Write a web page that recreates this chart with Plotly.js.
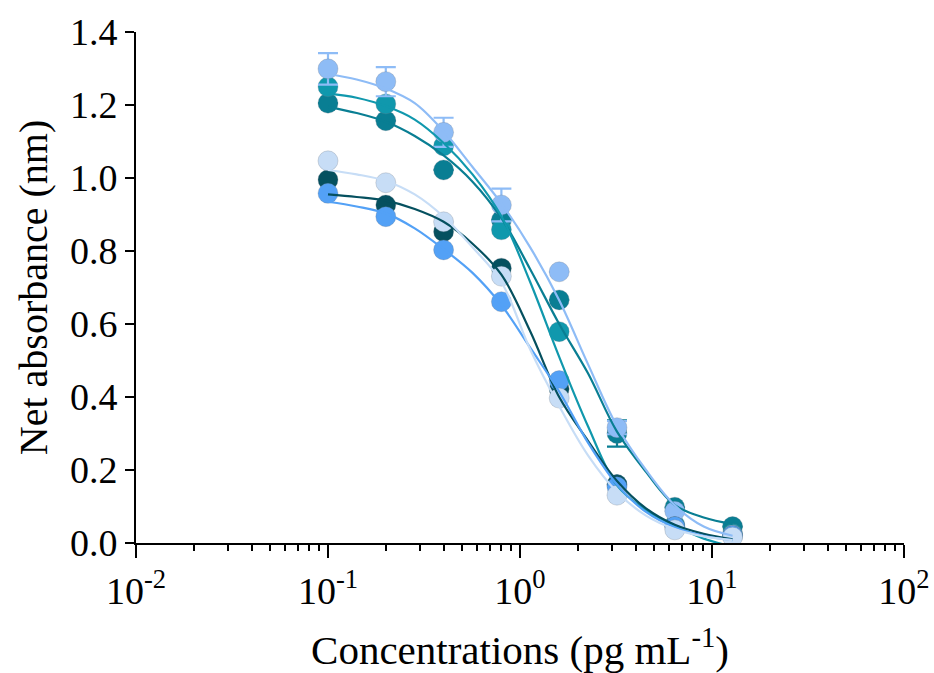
<!DOCTYPE html>
<html>
<head>
<meta charset="utf-8">
<script src="https://cdn.plot.ly/plotly-3.0.1.min.js"></script>
<style>html,body{margin:0;padding:0;background:#fff;}#chart{width:934px;height:673px;}</style>
</head>
<body>
<div id="chart"></div>
<script>
// Measured concentrations (pg/mL)
const concentrations = [0.1, 0.2, 0.4, 0.8, 1.6, 3.2, 6.4, 12.8];

const lightBluePts = [1.299, 1.264, 1.125, 0.926, 0.743, 0.316, 0.087, 0.022];
const lightBlueErr = [0.043, 0.040, 0.040, 0.045, 0.0, 0.018, 0.0, 0.0];
const tealPts      = [1.250, 1.203, 1.088, 0.858, 0.579, 0.160, 0.050, 0.025];
const darkTealPts  = [1.205, 1.157, 1.022, 0.885, 0.666, 0.300, 0.098, 0.045];
const darkTealErr  = [0, 0, 0, 0, 0, 0.036, 0, 0];
const paleBluePts  = [1.047, 0.987, 0.880, 0.731, 0.397, 0.131, 0.036, 0.016];
const navyPts      = [0.995, 0.926, 0.853, 0.753, 0.422, 0.160, 0.045, 0.020];
const bluePts      = [0.958, 0.894, 0.803, 0.661, 0.445, 0.154, 0.045, 0.020];

// Fitted curves at these concentrations
const curveX = [0.1, 0.141, 0.2, 0.283, 0.4, 0.566, 0.8, 1.13, 1.6, 2.26, 3.2, 4.53, 6.4, 9.05, 12.8];
const lightBlueFit = [1.285, 1.270, 1.245, 1.205, 1.128, 1.030, 0.930, 0.810, 0.665, 0.490, 0.320, 0.200, 0.103, 0.045, 0.020];
const tealFit      = [1.232, 1.220, 1.197, 1.160, 1.096, 1.010, 0.895, 0.715, 0.510, 0.320, 0.158, 0.090, 0.047, 0.012, -0.010];
const darkTealFit  = [1.195, 1.178, 1.154, 1.115, 1.062, 0.990, 0.890, 0.750, 0.600, 0.465, 0.305, 0.195, 0.104, 0.070, 0.052];
const paleBlueFit  = [1.022, 1.010, 0.992, 0.955, 0.894, 0.810, 0.715, 0.530, 0.375, 0.240, 0.140, 0.075, 0.038, 0.018, 0.008];
const navyFit      = [0.955, 0.948, 0.938, 0.915, 0.880, 0.820, 0.735, 0.580, 0.400, 0.280, 0.170, 0.095, 0.050, 0.025, 0.010];
const blueFit      = [0.935, 0.922, 0.903, 0.862, 0.805, 0.740, 0.652, 0.535, 0.415, 0.275, 0.160, 0.085, 0.043, 0.020, 0.008];

// Axis ticks
const xMajorVals = [0.01, 0.1, 1, 10, 100];
const xMajorText = ['10<sup>-2</sup>', '10<sup>-1</sup>', '10<sup>0</sup>', '10<sup>1</sup>', '10<sup>2</sup>'];
const xMinorVals = [];
[0.01, 0.1, 1, 10].forEach(d => { for (let k = 2; k <= 9; k++) xMinorVals.push(d * k); });
const yTickVals = [0, 0.2, 0.4, 0.6, 0.8, 1.0, 1.2, 1.4];

const colors = {
  lightBlue: '#8ebcf6', teal: '#1098ad', darkTeal: '#097e93',
  paleBlue: '#c7ddf6', navy: '#05505f', blue: '#53a1f6'
};

const series = [
  {pts: darkTealPts, fit: darkTealFit, c: colors.darkTeal, err: darkTealErr},
  {pts: tealPts, fit: tealFit, c: colors.teal},
  {pts: lightBluePts, fit: lightBlueFit, c: colors.lightBlue, err: lightBlueErr},
  {pts: navyPts, fit: navyFit, c: colors.navy},
  {pts: bluePts, fit: blueFit, c: colors.blue},
  {pts: paleBluePts, fit: paleBlueFit, c: colors.paleBlue}
];

const traces = [];
series.forEach(s => {
  const t = {
    x: concentrations, y: s.pts, type: 'scatter', mode: 'markers',
    marker: {size: 20, color: s.c, line: {width: 0.8, color: 'rgba(110,120,135,0.35)'}},
    showlegend: false, hoverinfo: 'x+y'
  };
  if (s.err) t.error_y = {type: 'data', array: s.err, visible: true, color: s.c, thickness: 2.2, width: 10};
  traces.push(t);
});
series.forEach(s => {
  traces.push({
    x: curveX, y: s.fit, type: 'scatter', mode: 'lines',
    line: {color: s.c, width: 2.2, shape: 'spline', smoothing: 1},
    showlegend: false, hoverinfo: 'skip'
  });
});

const fontFam = '"Liberation Serif", "DejaVu Serif", serif';
const layout = {
  width: 934, height: 673,
  margin: {l: 136, r: 30, t: 32, b: 130},
  paper_bgcolor: '#fff', plot_bgcolor: '#fff',
  font: {family: fontFam, color: '#000', size: 38},
  showlegend: false,
  xaxis: {
    type: 'log', range: [-2, 2],
    tickmode: 'array', tickvals: xMajorVals, ticktext: xMajorText,
    ticks: 'outside', ticklen: 13, tickwidth: 2, tickcolor: '#000',
    minor: {tickmode: 'array', tickvals: xMinorVals, ticks: 'outside', ticklen: 6, tickwidth: 2, tickcolor: '#000', showgrid: false},
    showline: true, linewidth: 2, linecolor: '#000',
    showgrid: false, zeroline: false, automargin: false,
    tickfont: {family: fontFam, size: 38, color: '#000'},
    title: {text: 'Concentrations (pg mL<sup>-1</sup>)', font: {family: fontFam, size: 41, color: '#000'}, standoff: 28}
  },
  yaxis: {
    range: [0, 1.4], tickmode: 'array', tickvals: yTickVals, tickformat: '.1f',
    ticks: 'outside', ticklen: 9, tickwidth: 2, tickcolor: '#000',
    showline: true, linewidth: 2, linecolor: '#000',
    showgrid: false, zeroline: false, automargin: false,
    tickfont: {family: fontFam, size: 38, color: '#000'},
    title: {text: 'Net absorbance (nm)', font: {family: fontFam, size: 40, color: '#000'}, standoff: 10}
  }
};

Plotly.newPlot('chart', traces, layout, {displayModeBar: false, staticPlot: true});
</script>
</body>
</html>
